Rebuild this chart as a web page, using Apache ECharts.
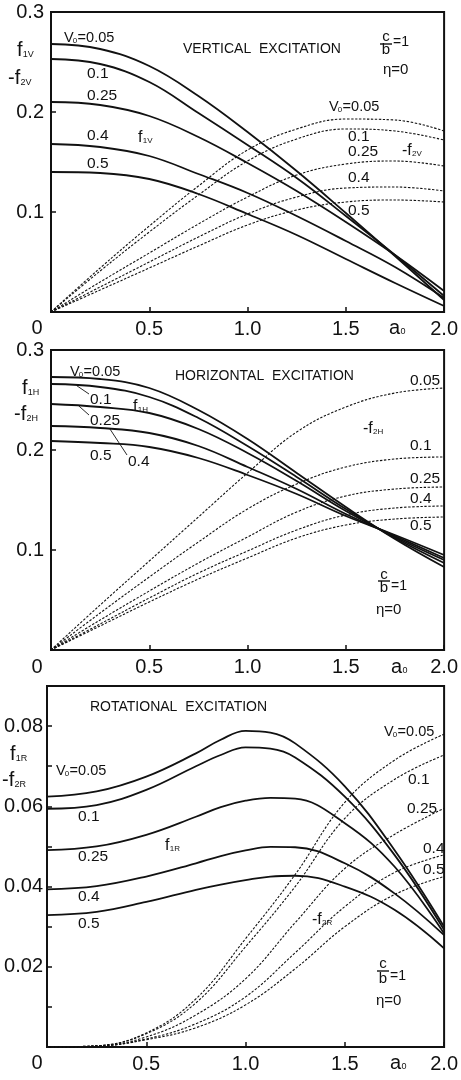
<!DOCTYPE html>
<html>
<head>
<meta charset="utf-8">
<script src="https://cdn.jsdelivr.net/npm/echarts@6/dist/echarts.min.js"></script>
<style>
  html, body { margin: 0; padding: 0; background: #fff; }
  #c { width: 461px; height: 1080px; }
</style>
</head>
<body>
<div id="c"></div>
<script>
// Dimensionless frequency a0 (abscissa of the vertical / horizontal panels and of the -f2R curves)
const a0 = [0, 0.25, 0.5, 0.75, 1.0, 1.25, 1.5, 1.75, 2.0];
// Denser abscissa used for the f1R curves, which peak near a0 = 1
const a0R = [0, 0.25, 0.5, 0.75, 0.875, 1.0, 1.125, 1.25, 1.5, 1.75, 2.0];
const v0Values = ['0.05', '0.1', '0.25', '0.4', '0.5'];

// Vertical excitation: f1V (solid) and -f2V (dashed), one array per V0
const f1V_005 = [0.268, 0.263, 0.246, 0.216, 0.180, 0.141, 0.099, 0.056, 0.012];
const f1V_01  = [0.253, 0.248, 0.230, 0.199, 0.167, 0.134, 0.096, 0.057, 0.016];
const f1V_025 = [0.210, 0.207, 0.196, 0.175, 0.149, 0.121, 0.090, 0.057, 0.021];
const f1V_04  = [0.168, 0.165, 0.156, 0.138, 0.119, 0.096, 0.071, 0.045, 0.014];
const f1V_05  = [0.140, 0.139, 0.133, 0.118, 0.098, 0.077, 0.053, 0.029, 0.006];
const f2V_005 = [0, 0.044, 0.086, 0.126, 0.162, 0.183, 0.193, 0.192, 0.181];
const f2V_01  = [0, 0.041, 0.080, 0.117, 0.151, 0.173, 0.183, 0.181, 0.172];
const f2V_025 = [0, 0.030, 0.059, 0.088, 0.115, 0.137, 0.148, 0.151, 0.146];
const f2V_04  = [0, 0.025, 0.050, 0.075, 0.098, 0.115, 0.124, 0.125, 0.121];
const f2V_05  = [0, 0.022, 0.044, 0.066, 0.087, 0.102, 0.110, 0.112, 0.110];

// Horizontal excitation: f1H (solid) and -f2H (dashed)
const f1H_005 = [0.273, 0.271, 0.262, 0.240, 0.211, 0.177, 0.143, 0.111, 0.083];
const f1H_01  = [0.266, 0.263, 0.253, 0.232, 0.204, 0.173, 0.141, 0.112, 0.087];
const f1H_025 = [0.246, 0.243, 0.237, 0.221, 0.197, 0.169, 0.139, 0.113, 0.090];
const f1H_04  = [0.224, 0.222, 0.217, 0.204, 0.183, 0.161, 0.136, 0.114, 0.092];
const f1H_05  = [0.209, 0.207, 0.203, 0.192, 0.175, 0.156, 0.134, 0.115, 0.095];
const f2H_005 = [0, 0.045, 0.089, 0.133, 0.177, 0.218, 0.243, 0.257, 0.262];
const f2H_01  = [0, 0.037, 0.073, 0.108, 0.141, 0.166, 0.183, 0.191, 0.193];
const f2H_025 = [0, 0.030, 0.059, 0.087, 0.113, 0.138, 0.154, 0.161, 0.163];
const f2H_04  = [0, 0.026, 0.052, 0.077, 0.099, 0.120, 0.135, 0.142, 0.144];
const f2H_05  = [0, 0.024, 0.048, 0.071, 0.092, 0.112, 0.125, 0.131, 0.133];

// Rotational excitation: f1R (solid, on a0R) and -f2R (dashed, on a0)
const f1R_005 = [0.0624, 0.0637, 0.0674, 0.0732, 0.0766, 0.0788, 0.0784, 0.0757, 0.0650, 0.0491, 0.0300];
const f1R_01  = [0.0594, 0.0603, 0.0641, 0.0700, 0.0728, 0.0747, 0.0744, 0.0722, 0.0624, 0.0479, 0.0292];
const f1R_025 = [0.0491, 0.0500, 0.0529, 0.0574, 0.0598, 0.0614, 0.0621, 0.0619, 0.0558, 0.0450, 0.0283];
const f1R_04  = [0.0393, 0.0401, 0.0425, 0.0458, 0.0476, 0.0490, 0.0499, 0.0498, 0.0458, 0.0383, 0.0279];
const f1R_05  = [0.0329, 0.0337, 0.0362, 0.0392, 0.0405, 0.0416, 0.0425, 0.0427, 0.0400, 0.0342, 0.0246];
const f2R_005 = [0, 0.0003, 0.0035, 0.0120, 0.0270, 0.0430, 0.0610, 0.0715, 0.0780];
const f2R_01  = [0, 0.0003, 0.0033, 0.0110, 0.0250, 0.0400, 0.0570, 0.0667, 0.0728];
const f2R_025 = [0, 0.0002, 0.0025, 0.0080, 0.0170, 0.0310, 0.0445, 0.0530, 0.0595];
const f2R_04  = [0, 0.0002, 0.0020, 0.0058, 0.0125, 0.0235, 0.0350, 0.0435, 0.0479];
const f2R_05  = [0, 0.0002, 0.0018, 0.0048, 0.0105, 0.0195, 0.0300, 0.0380, 0.0425];

// Axis tick values
const xTicks = [0, 0.5, 1.0, 1.5, 2.0];
const yTicksVH = [0, 0.1, 0.2, 0.3];
const yTicksR = [0, 0.01, 0.02, 0.03, 0.04, 0.05, 0.06, 0.07, 0.08, 0.09];

const FONT = 'Liberation Sans';
const INK = '#111';

const panels = [
  { xs1: a0, xs2: a0, solid: [f1V_005, f1V_01, f1V_025, f1V_04, f1V_05], dashed: [f2V_005, f2V_01, f2V_025, f2V_04, f2V_05] },
  { xs1: a0, xs2: a0, solid: [f1H_005, f1H_01, f1H_025, f1H_04, f1H_05], dashed: [f2H_005, f2H_01, f2H_025, f2H_04, f2H_05] },
  { xs1: a0R, xs2: a0, solid: [f1R_005, f1R_01, f1R_025, f1R_04, f1R_05], dashed: [f2R_005, f2R_01, f2R_025, f2R_04, f2R_05] }
];

function curve(gi, xs, ys, dashed, name) {
  return {
    type: 'line', name: name, xAxisIndex: gi, yAxisIndex: gi,
    data: xs.map((x, i) => [x, ys[i]]),
    smooth: 0.4, showSymbol: false, silent: true, animation: false,
    clip: true,
    lineStyle: dashed
      ? { color: INK, width: 1.1, type: [2.4, 1.6] }
      : { color: INK, width: 1.8, type: 'solid' }
  };
}

const series = [];
panels.forEach((p, gi) => {
  p.solid.forEach((ys, k) => series.push(curve(gi, p.xs1, ys, false, 'f1 V0=' + v0Values[k])));
  p.dashed.forEach((ys, k) => series.push(curve(gi, p.xs2, ys, true, '-f2 V0=' + v0Values[k])));
});

const grids = [
  { left: 51, top: 12, width: 400, height: 300 },
  { left: 51, top: 350, width: 399, height: 300 },
  { left: 47, top: 686, width: 400, height: 361 }
].map(g => Object.assign(g, { show: true, borderColor: INK, borderWidth: 2, containLabel: false }));

const axisLineStyle = { show: true, lineStyle: { color: INK, width: 2 } };
const tickStyle = { show: true, inside: true, length: 5, lineStyle: { color: INK, width: 1.5 } };
const labelBase = { color: INK, fontFamily: FONT, fontSize: 20 };

const xAxes = [0, 1, 2].map(gi => ({
  type: 'value', gridIndex: gi, min: xTicks[0], max: xTicks[xTicks.length - 1], interval: 0.5,
  axisLine: axisLineStyle, axisTick: tickStyle, splitLine: { show: false },
  axisLabel: Object.assign({}, labelBase, {
    margin: 7, showMinLabel: false,
    formatter: v => (v === 0 ? '' : v.toFixed(1))
  })
}));

const yAxes = [
  { max: yTicksVH[yTicksVH.length - 1], interval: 0.1, digits: 1, every: 1, margin: 7 },
  { max: yTicksVH[yTicksVH.length - 1], interval: 0.1, digits: 1, every: 1, margin: 7 },
  { max: yTicksR[yTicksR.length - 1], interval: 0.01, digits: 2, every: 2, margin: 4 }
].map((c, gi) => ({
  type: 'value', gridIndex: gi, min: 0, max: c.max, interval: c.interval,
  axisLine: axisLineStyle, axisTick: tickStyle, splitLine: { show: false },
  axisLabel: Object.assign({}, labelBase, {
    margin: c.margin, showMinLabel: false,
    formatter: v => {
      const n = Math.round(v / c.interval);
      if (n === 0 || n % c.every !== 0) return '';
      return v.toFixed(c.digits);
    }
  })
}));

// ---- text helpers -------------------------------------------------------
const mctx = document.createElement('canvas').getContext('2d');
function tw(text, size) { mctx.font = size + 'px "' + FONT + '"'; return mctx.measureText(text).width; }

function T(x, y, text, size, align) {
  align = align || 'left';
  return {
    type: 'text', x: x, y: y, z: 100, silent: true,
    style: {
      text: text, fill: INK, font: size + 'px "' + FONT + '"',
      align: align, verticalAlign: 'middle',
      textAlign: align, textVerticalAlign: 'middle'
    }
  };
}
// symbol with a subscript, e.g. f with "1V"
function SUB(x, y, main, sub, size, subSize, drop) {
  const w = tw(main, size);
  return [T(x, y, main, size), T(x + w + 0.3, y + drop, sub, subSize)];
}
// "V0=..." label
function V0(x, y, val, size) {
  const w1 = tw('V', size);
  const sw = tw('0', size * 0.55);
  return [T(x, y, 'V', size), T(x + w1 - 1, y + 3, '0', size * 0.55), T(x + w1 + sw - 0.5, y, '=' + val, size)];
}
// c/b = 1 fraction
function FRAC(cx, yTop, yBar, yBot, eqY) {
  return [
    T(cx, yTop, 'c', 15, 'center'),
    { type: 'line', z: 100, silent: true, shape: { x1: cx - 6, y1: yBar, x2: cx + 6, y2: yBar }, style: { stroke: INK, lineWidth: 1.4 } },
    T(cx, yBot, 'b', 15, 'center'),
    T(cx + 7, eqY, '=1', 14)
  ];
}
function yAt(xs, ys, a) {
  for (let i = 0; i < xs.length - 1; i++) {
    if (a >= xs[i] && a <= xs[i + 1]) {
      const t = (a - xs[i]) / (xs[i + 1] - xs[i]);
      return ys[i] + t * (ys[i + 1] - ys[i]);
    }
  }
  return ys[ys.length - 1];
}

const chart = echarts.init(document.getElementById('c'), null, { renderer: 'canvas' });
chart.setOption({
  animation: false,
  backgroundColor: '#fff',
  grid: grids,
  xAxis: xAxes,
  yAxis: yAxes,
  series: series
});

// leader line from a point on a curve to its label
function leader(gi, ys, a, x2, y2) {
  const p = chart.convertToPixel({ gridIndex: gi }, [a, yAt(a0, ys, a)]);
  return { type: 'line', z: 100, silent: true, shape: { x1: p[0], y1: p[1], x2: x2, y2: y2 }, style: { stroke: INK, lineWidth: 0.9 } };
}

const g = [];
const push = (...els) => els.forEach(e => Array.isArray(e) ? g.push(...e) : g.push(e));

// ---- vertical excitation ----
push(SUB(17, 50, 'f', '1V', 20, 9, 5), SUB(8, 78, '-f', '2V', 20, 9, 5));
push(T(37, 328, '0', 20, 'center'), SUB(389, 328, 'a', '0', 20, 9, 4));
push(V0(64, 38, '0.05', 14.5));
push(T(87, 74, '0.1', 15.5), T(87, 96, '0.25', 15.5), T(87, 136, '0.4', 15.5), T(87, 164, '0.5', 15.5));
push(SUB(138, 138, 'f', '1V', 16, 8, 3));
push(T(183, 49, 'VERTICAL  EXCITATION', 14));
push(FRAC(386, 37, 44, 50, 42), T(383, 70, 'η=0', 15));
push(V0(329, 107, '0.05', 14.5));
push(T(348, 137, '0.1', 15.5), T(348, 152, '0.25', 15.5), T(348, 178, '0.4', 15.5), T(348, 211, '0.5', 15.5));
push(SUB(402, 151, '-f', '2V', 16, 8, 3));

// ---- horizontal excitation ----
push(SUB(22, 388, 'f', '1H', 20, 9, 5), SUB(14, 414, '-f', '2H', 20, 9, 5));
push(T(37, 667, '0', 20, 'center'), SUB(391, 667, 'a', '0', 20, 9, 4));
push(V0(70, 372, '0.05', 14.5));
push(T(90, 400, '0.1', 15.5), T(90, 421, '0.25', 15.5), T(90, 456, '0.5', 15.5), T(128, 462, '0.4', 15.5));
push(leader(1, f1H_01, 0.13, 89, 394), leader(1, f1H_025, 0.14, 89, 415), leader(1, f1H_04, 0.3, 127, 455));
push(SUB(133, 407, 'f', '1H', 16, 8, 3));
push(T(175, 376, 'HORIZONTAL  EXCITATION', 14));
push(T(410, 381, '0.05', 15.5), T(410, 446, '0.1', 15.5), T(410, 479, '0.25', 15.5), T(410, 499, '0.4', 15.5), T(410, 526, '0.5', 15.5));
push(SUB(363, 429, '-f', '2H', 16, 8, 3));
push(FRAC(384, 575, 581, 588, 586), T(376, 610, 'η=0', 15));

// ---- rotational excitation ----
push(T(90, 707, 'ROTATIONAL  EXCITATION', 14));
push(SUB(10, 754, 'f', '1R', 20, 9, 5), SUB(2, 780, '-f', '2R', 20, 9, 5));
push(T(37, 1063, '0', 20, 'center'), SUB(390, 1063, 'a', '0', 20, 9, 4));
push(V0(56, 771, '0.05', 14.5));
push(T(78, 817, '0.1', 15.5), T(78, 857, '0.25', 15.5), T(78, 897, '0.4', 15.5), T(78, 924, '0.5', 15.5));
push(SUB(165, 846, 'f', '1R', 16, 8, 3));
push(V0(384, 732, '0.05', 14.5));
push(T(408, 780, '0.1', 15.5), T(407, 809, '0.25', 15.5), T(423, 849, '0.4', 15.5), T(423, 870, '0.5', 15.5));
push(SUB(312, 920, '-f', '2R', 16, 8, 3));
push(FRAC(383, 964, 971, 979, 976), T(376, 1001, 'η=0', 15));

chart.setOption({ graphic: { elements: g } });
</script>
</body>
</html>
